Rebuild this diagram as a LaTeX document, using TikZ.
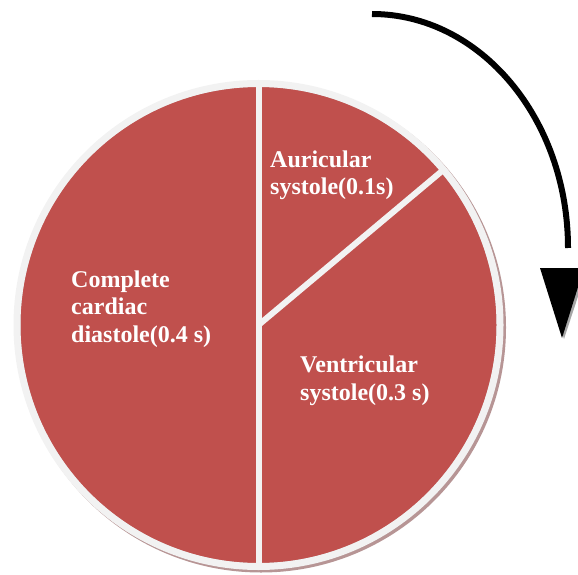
\documentclass[tikz,border=0pt]{standalone}
\usepackage{fontspec}
\setmainfont{Liberation Serif}
\usetikzlibrary{calc}
\definecolor{slicered}{HTML}{C0504D}
\definecolor{rimgray}{HTML}{F2F2F2}
\definecolor{shadowpink}{HTML}{B79595}
\tikzset{
    phase/.style={anchor=base west,inner sep=0pt,align=left,text=white,
        font=\bfseries\fontsize{24}{27.5}\selectfont},
    divider/.style={line width=6pt,draw=rimgray}
}
\begin{document}
\begin{tikzpicture}[x=1pt,y=1pt]
        \useasboundingbox (0,0) rectangle (578,574);
        %% Pie with shadow
        \coordinate (O) at (258.5,249);
        \fill[shadowpink] ($(O)+(2.5,-2.5)$) circle (245);
        \fill[slicered] (O) circle (238);
        \draw[line width=7pt,rimgray] (O) circle (241.5);
        %% Dividers
        \draw[divider] (O) ++(0,241) -- ++(0,-482);
        \draw[divider] (O) -- ++(40:239);
        %% Labels (base = last line)
        \node[phase] (auricular) at (270,379) {Auricular\\systole(0.1s)};
        \node[phase] (diastole) at (71,232) {Complete\\cardiac\\diastole(0.4 s)};
        \node[phase] (ventricular) at (300,174) {Ventricular\\systole(0.3 s)};
        %% Direction arrow
        \draw[line width=6pt] (372,560) arc[start angle=90,end angle=0,x radius=196,y radius=234];
        \fill[gray!70] (543,305) -- (587,305) -- (564,235) -- cycle;
        \fill[black] (540,306) -- (584,306) -- (562,236) -- cycle;
\end{tikzpicture}
\end{document}
